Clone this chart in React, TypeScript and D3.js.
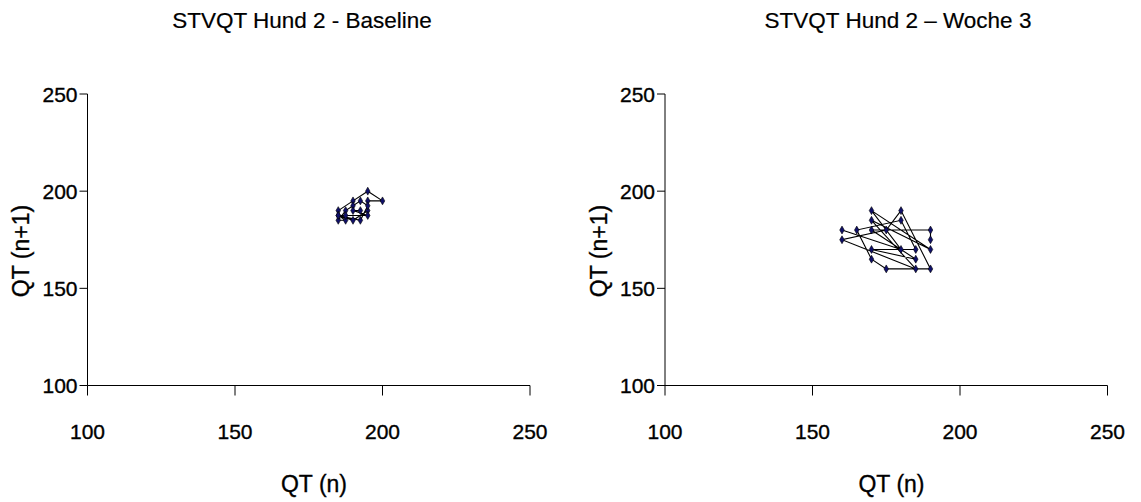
import React from "react";
import * as d3 from "d3";

// QT(n) vs QT(n+1) pairs, in drawing order
const baseX = [185, 190, 195, 200, 195, 195, 190, 185, 187.5, 185, 187.5, 190, 192.5, 195, 192.5, 185, 187.5, 195, 190, 192.5];
const baseY = [190, 195, 200, 195, 195, 190, 185, 187.5, 185, 185, 190, 192.5, 195, 192.5, 185, 187.5, 187.5, 187.5, 190, 190];

const week3X = [160, 180, 170, 190, 170, 185, 160, 175, 180, 190, 175, 170, 165, 180, 185, 170, 185, 170, 190, 190];
const week3Y = [180, 170, 190, 170, 185, 160, 175, 180, 190, 160, 160, 165, 180, 185, 170, 170, 165, 180, 180, 175];

const ticks = [100, 150, 200, 250];
const titles = ["STVQT Hund 2 - Baseline", "STVQT Hund 2 \u2013 Woche 3"];

const W = 1141;
const H = 502;
const font = "Arial, 'Liberation Sans', sans-serif";
const txt = { fontFamily: font, fill: "#000", stroke: "#000", strokeWidth: 0.35 };

function Panel({ xs, ys, title, dx, titleX }) {
  const x = d3.scaleLinear().domain([100, 250]).range([87.5 + dx, 530 + dx]);
  const y = d3.scaleLinear().domain([100, 250]).range([385.5, 94]);
  const pts = xs.map((v, i) => [v, ys[i]]);
  const line = d3
    .line()
    .x((d) => x(d[0]))
    .y((d) => y(d[1]));
  const diamond = d3.symbol().type(d3.symbolDiamond).size(18)();

  return (
    <g>
      <text x={titleX} y={28} textAnchor="middle" fontSize={22.5} {...txt} strokeWidth={0.2}>
        {title}
      </text>
      {/* y axis */}
      <line x1={x(100)} x2={x(100)} y1={y(250)} y2={y(100)} stroke="#000" />
      {ticks.map((t) => (
        <g key={"y" + t}>
          <line x1={x(100) - 8} x2={x(100)} y1={y(t)} y2={y(t)} stroke="#000" />
          <text x={x(100) - 10} y={y(t)} dy="0.36em" textAnchor="end" fontSize={21} {...txt}>
            {t}
          </text>
        </g>
      ))}
      {/* x axis */}
      <line x1={x(100)} x2={x(250)} y1={y(100)} y2={y(100)} stroke="#000" />
      {ticks.map((t) => (
        <g key={"x" + t}>
          <line x1={x(t)} x2={x(t)} y1={y(100)} y2={y(100) + 10} stroke="#000" />
          <text x={x(t)} y={439} textAnchor="middle" fontSize={21} {...txt}>
            {t}
          </text>
        </g>
      ))}
      <text x={314 + dx} y={492} textAnchor="middle" fontSize={23} {...txt}>
        QT (n)
      </text>
      <text
        transform={`translate(${29 + dx},251) rotate(-90)`}
        textAnchor="middle"
        fontSize={23}
        {...txt}
      >
        QT (n+1)
      </text>
      <path d={line(pts)} fill="none" stroke="#000" strokeWidth={1.1} />
      {pts.map((d, i) => (
        <path
          key={i}
          d={diamond}
          transform={`translate(${x(d[0])},${y(d[1])})`}
          fill="#10106a"
          stroke="#000"
          strokeWidth={0.6}
        />
      ))}
    </g>
  );
}

export default function App() {
  return (
    <svg
      width={W}
      height={H}
      style={{ position: "absolute", left: 0, top: 0, background: "#fff" }}
    >
      <rect width={W} height={H} fill="#fff" />
      <Panel xs={baseX} ys={baseY} title={titles[0]} dx={0} titleX={302} />
      <Panel xs={week3X} ys={week3Y} title={titles[1]} dx={577.5} titleX={898} />
    </svg>
  );
}
